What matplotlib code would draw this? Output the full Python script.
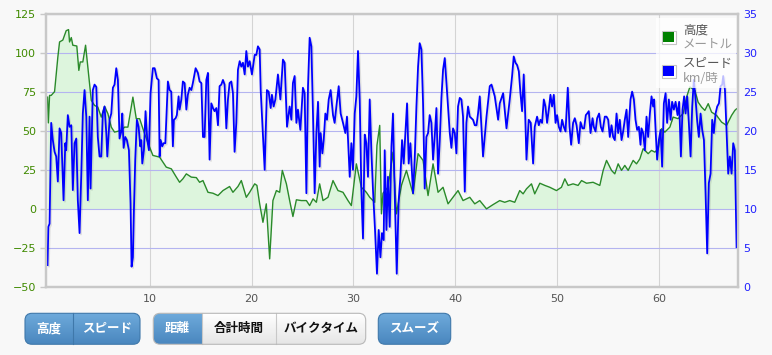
import numpy as np
import matplotlib.pyplot as plt
import matplotlib.colors as mcolors
import matplotlib.patheffects as pe
from matplotlib.patches import FancyBboxPatch, Rectangle

plt.rcParams['font.family'] = ['Noto Sans CJK JP', 'DejaVu Sans']

# altitude profile (distance km, altitude m)
altitude = [
    (0.0, 71.5), (0.08, 55), (0.2, 72.6), (0.36, 72.6), (0.69, 75), (1.01, 97), (1.18, 106.8),
    (1.50, 108), (1.67, 111), (1.83, 114), (2.06, 114.7), (2.16, 106.8), (2.33, 109.6),
    (2.48, 104.7), (2.87, 104.2), (3.07, 88.6), (3.21, 94), (3.46, 94), (3.73, 104.7),
    (3.95, 90.8), (4.29, 69.4), (4.61, 66.2), (4.93, 65.1), (5.27, 58.7), (5.59, 65.6),
    (5.92, 60.9), (6.25, 52.3), (6.57, 49.1), (7.23, 50.2), (7.55, 52.3), (7.88, 52.3),
    (8.37, 71.5), (8.70, 57.7), (9.03, 57.7), (9.52, 48), (10.01, 39.5), (10.33, 34.2),
    (10.99, 33.1), (11.64, 26.7), (12.14, 25.6), (12.63, 20.3), (12.95, 17), (13.27, 19.2),
    (13.61, 22.4), (14.10, 20.3), (14.59, 20), (14.91, 17), (15.24, 18.1), (15.73, 10.6),
    (16.22, 10), (16.71, 8.5), (17.20, 11.7), (17.85, 14.3), (18.18, 10.6), (18.67, 14.3),
    (19.00, 18.1), (19.49, 7.4), (19.82, 10.6), (20.31, 16), (20.53, 15), (20.80, 3.2),
    (21.12, -8.6), (21.45, 3.2), (21.78, -32), (22.10, 5.3), (22.44, 11.7), (22.76, 10.6),
    (23.02, 24.6), (23.42, 16), (23.74, 5.3), (24.06, -4.9), (24.40, 5.8), (24.89, 5.3),
    (25.38, 5.3), (25.70, 2.1), (26.03, 6.4), (26.36, 4.2), (26.68, 16), (27.01, 5.3),
    (27.50, 7.4), (27.99, 18.1), (28.48, 11.7), (28.97, 10.6), (29.46, 5.3), (29.79, 2.1),
    (30.28, 28.8), (30.77, 13.8), (31.26, 10.6), (31.59, 7.4), (32.08, 4.2), (32.30, 40.6),
    (32.57, 53.4), (32.74, -3.2), (32.89, 10), (33.38, 13.8), (33.87, 36.3), (34.21, -3.2),
    (34.70, 15), (35.19, 24.6), (35.84, 9.6), (36.33, 35.3), (36.82, 31), (37.31, 8.5),
    (37.80, 28.8), (38.29, 10.6), (38.78, 13.8), (39.27, 3.2), (39.76, 7.4), (40.25, 11.7),
    (40.74, 5.3), (41.40, 7.4), (41.89, 3.2), (42.38, 5.3), (43.04, 0), (43.68, 2.7),
    (44.34, 5.3), (44.83, 4.2), (45.32, 5.3), (45.81, 4.2), (46.30, 11.7), (46.63, 9.6),
    (46.96, 12.8), (47.45, 16), (47.77, 9.6), (48.27, 16.4), (48.76, 15), (49.25, 13.8),
    (49.90, 11.7), (50.39, 13.8), (50.72, 19.2), (51.04, 15), (51.53, 16), (52.02, 15),
    (52.36, 18.1), (52.85, 16.4), (53.49, 17), (54.15, 15), (54.48, 24.6), (54.81, 31),
    (55.30, 24.6), (55.62, 22.4), (55.95, 28.8), (56.28, 24.6), (56.60, 27.8), (56.93, 24.6),
    (57.42, 31), (57.75, 28.8), (58.08, 32), (58.40, 38.5), (58.89, 35.3), (59.22, 37.4),
    (59.55, 36.3), (59.88, 38.5), (60.20, 51.3), (60.53, 49.1), (61.02, 52.3), (61.34, 58.7),
    (61.83, 57.7), (62.32, 61), (62.66, 71.5), (62.98, 78), (63.47, 75.8), (63.79, 68.3),
    (64.13, 65.1), (64.45, 63), (64.78, 67.3), (65.11, 61.9), (65.60, 59.8), (66.09, 55.5),
    (66.58, 53.4), (67.07, 59.8), (67.39, 63), (67.56, 64),
]

# speed profile (distance km, speed km/h)
speed = [
    (0.0, 2.8), (0.08, 7.7), (0.2, 8.1), (0.28, 14.5), (0.36, 21), (0.52, 18.8), (0.69, 17.3),
    (0.85, 16.7), (1.01, 13.5), (1.18, 20.3), (1.34, 19.7), (1.57, 11.1), (1.74, 18.4),
    (1.83, 17.5), (1.99, 22), (2.16, 20.5), (2.33, 20.7), (2.48, 12.4), (2.65, 18.4),
    (2.82, 19), (2.97, 11.1), (3.14, 6.9), (3.31, 14.5), (3.46, 22.2), (3.63, 25.2),
    (3.80, 21.8), (3.95, 11.1), (4.12, 21.8), (4.22, 12.6), (4.44, 25.2), (4.61, 25.9),
    (4.78, 25.6), (4.93, 19.2), (5.10, 16.7), (5.27, 16.7), (5.42, 22.2), (5.59, 23.1),
    (5.76, 19.7), (5.86, 16.7), (6.08, 21.4), (6.25, 22.2), (6.41, 25.5), (6.57, 25.9),
    (6.74, 28), (6.90, 26.5), (7.06, 19), (7.23, 19.9), (7.33, 22.2), (7.46, 17.8),
    (7.62, 19.2), (7.78, 18.8), (7.98, 17.5), (8.14, 10.7), (8.24, 2.6), (8.37, 3.8),
    (8.47, 9.8), (8.60, 16.3), (8.76, 21.4), (8.93, 20.5), (9.09, 18), (9.19, 18.8),
    (9.29, 15.8), (9.45, 17.5), (9.61, 22.5), (9.78, 18.8), (9.94, 17.5), (10.10, 24.8),
    (10.33, 28), (10.50, 28), (10.72, 26.7), (10.89, 26.5), (10.99, 16.7), (11.09, 18.8),
    (11.25, 18), (11.38, 18.4), (11.55, 18.4), (11.70, 23.1), (11.80, 26.3), (11.97, 25.2),
    (12.13, 25), (12.29, 18), (12.39, 21.4), (12.56, 21.6), (12.68, 22), (12.85, 24.4),
    (12.95, 22.7), (13.12, 24), (13.27, 26.3), (13.44, 26.1), (13.61, 22.7), (13.76, 24.6),
    (13.93, 25.5), (14.10, 25.2), (14.25, 26.1), (14.52, 28), (14.74, 27.4), (14.91, 26.3),
    (15.08, 26.1), (15.24, 19.2), (15.40, 19.2), (15.57, 26.5), (15.73, 27.4), (15.89, 16.3),
    (16.06, 23.5), (16.22, 22.9), (16.38, 22.5), (16.55, 22.9), (16.71, 20.7), (16.87, 25.7),
    (17.04, 25.9), (17.20, 26.5), (17.36, 25.9), (17.53, 20.3), (17.69, 24), (17.85, 26.1),
    (18.02, 26.3), (18.18, 24.8), (18.34, 17.3), (18.51, 21), (18.67, 27.8), (18.84, 28.9),
    (19.00, 28.2), (19.16, 28.7), (19.33, 27.2), (19.49, 30.2), (19.65, 28.2), (19.82, 28.9),
    (20.04, 27.2), (20.31, 29.7), (20.47, 29.7), (20.63, 30.8), (20.80, 30.4), (20.90, 25.2),
    (21.29, 15), (21.51, 25.2), (21.68, 25), (21.88, 22.9), (22.00, 24.6), (22.17, 23.1),
    (22.34, 24), (22.59, 27.2), (22.83, 24), (23.08, 29.1), (23.25, 28.7), (23.48, 20.5),
    (23.74, 23.1), (23.91, 21.4), (24.06, 26.1), (24.23, 27), (24.40, 21), (24.55, 22.7),
    (24.79, 20.1), (25.04, 25.5), (25.21, 24.8), (25.38, 12), (25.54, 25.7), (25.70, 31.9),
    (25.87, 30.8), (26.03, 22), (26.19, 12), (26.36, 19.7), (26.52, 23.7), (26.68, 15.4),
    (26.78, 19.7), (26.95, 17.1), (27.08, 18.8), (27.24, 22.2), (27.40, 21.4), (27.57, 24),
    (27.76, 25.2), (27.99, 22), (28.15, 21), (28.32, 23.1), (28.55, 25.7), (28.74, 22.2),
    (28.97, 21), (29.20, 19.7), (29.36, 21.8), (29.63, 14.1), (29.79, 18.4), (29.95, 15),
    (30.12, 22.2), (30.28, 24.4), (30.44, 30.2), (30.61, 24), (30.77, 12.4), (30.93, 6.2),
    (31.10, 19.5), (31.26, 18.4), (31.42, 14.1), (31.59, 24), (31.75, 17.5), (31.91, 12.4),
    (32.11, 7.3), (32.30, 1.7), (32.47, 7.3), (32.64, 3.8), (32.79, 6.9), (32.96, 6),
    (33.06, 17.5), (33.23, 7.3), (33.38, 14.1), (33.55, 7.7), (33.72, 18), (33.87, 22.2),
    (34.04, 12), (34.24, 1.7), (34.43, 11.1), (34.60, 14.1), (34.76, 18.8), (34.92, 15.8),
    (35.09, 19.7), (35.25, 23.5), (35.41, 15.8), (35.58, 18.4), (35.84, 12), (36.00, 16.3),
    (36.17, 23.1), (36.33, 28.2), (36.49, 31.2), (36.66, 30.4), (36.82, 23.5), (36.98, 12.6),
    (37.15, 19.2), (37.31, 19.7), (37.47, 22), (37.64, 21), (37.80, 16.3), (37.96, 19.2),
    (38.13, 22.9), (38.29, 14.5), (38.46, 18.8), (38.62, 24.2), (38.78, 27.8), (38.95, 29.3),
    (39.11, 26.1), (39.27, 22.7), (39.44, 19.7), (39.60, 17.8), (39.76, 20.3), (39.93, 19.7),
    (40.09, 17.1), (40.25, 23.1), (40.42, 24.2), (40.58, 24), (40.74, 21.8), (40.91, 12.2),
    (41.07, 21), (41.23, 23.1), (41.40, 21.8), (41.72, 21.4), (41.89, 20.7), (42.06, 20.7),
    (42.21, 22.2), (42.38, 24.4), (42.70, 16.7), (43.04, 21.8), (43.36, 25.7), (43.53, 25.9),
    (43.85, 24.4), (44.18, 21.4), (44.34, 23.5), (44.67, 24.8), (45.00, 20.3), (45.32, 24),
    (45.55, 27), (45.71, 29.5), (45.88, 28.7), (46.04, 28.4), (46.21, 27.6), (46.37, 24.8),
    (46.53, 22.5), (46.69, 27.2), (46.82, 22.7), (46.96, 16.3), (47.18, 21.4), (47.38, 21),
    (47.61, 15.8), (47.77, 20.5), (48.00, 21.8), (48.17, 20.7), (48.33, 21.4), (48.49, 21),
    (48.66, 24), (48.82, 23.1), (48.98, 21), (49.15, 22.7), (49.31, 24.6), (49.47, 23.1),
    (49.64, 24.6), (49.81, 21), (49.96, 22), (50.13, 20.5), (50.30, 19.9), (50.45, 21.4),
    (50.62, 20.5), (50.79, 19.9), (51.01, 25.5), (51.18, 20.5), (51.34, 18.2), (51.53, 21),
    (51.70, 21.6), (51.87, 20.7), (52.09, 18.4), (52.26, 21.1), (52.45, 20.3), (52.61, 20.3),
    (52.78, 22), (52.91, 22.2), (53.07, 22.5), (53.24, 19.7), (53.44, 21.6), (53.56, 20.5),
    (53.73, 19.9), (53.89, 21.6), (54.08, 22.2), (54.25, 20.5), (54.42, 19.9), (54.64, 21.8),
    (54.81, 21.8), (54.97, 21.4), (55.13, 19.2), (55.30, 20.7), (55.46, 19.2), (55.62, 18.8),
    (55.79, 22.2), (55.95, 19.7), (56.11, 21.4), (56.28, 18.8), (56.44, 19.9), (56.60, 21.4),
    (56.77, 22.7), (56.93, 19.2), (57.16, 24), (57.32, 25), (57.49, 24), (57.65, 21.4),
    (57.81, 20.1), (57.98, 20.5), (58.14, 18.2), (58.24, 20.3), (58.40, 19.7), (58.57, 17.5),
    (58.73, 21.8), (58.89, 19.2), (59.06, 22.2), (59.22, 24.4), (59.38, 23.1), (59.48, 24),
    (59.62, 20.1), (59.77, 16.3), (59.94, 18.8), (60.11, 20.1), (60.26, 15.4), (60.43, 23.5),
    (60.60, 24.8), (60.75, 21), (60.92, 24), (61.09, 21.4), (61.24, 23.7), (61.41, 22.7),
    (61.58, 23.7), (61.77, 22), (61.93, 23.7), (62.10, 16.7), (62.26, 22.7), (62.42, 24.4),
    (62.56, 22.2), (62.72, 24.4), (62.88, 21), (63.05, 16.7), (63.21, 23.1), (63.37, 26.5),
    (63.54, 24), (63.70, 21.2), (63.86, 19.2), (64.03, 22.2), (64.19, 20.1), (64.36, 18.8),
    (64.52, 12), (64.68, 4.3), (64.84, 13.3), (65.01, 14.5), (65.17, 21.4), (65.33, 19.7),
    (65.50, 22.2), (65.66, 23.1), (65.83, 23.5), (65.99, 25.7), (66.15, 25.9), (66.25, 27),
    (66.42, 25.2), (66.58, 19.7), (66.74, 14.5), (66.90, 16.7), (67.07, 14.5), (67.23, 18.4),
    (67.39, 17.5), (67.56, 5.1),
]

x_ticks = [10, 20, 30, 40, 50, 60]
alt_ticks = [-50, -25, 0, 25, 50, 75, 100, 125]
speed_ticks = [0, 5, 10, 15, 20, 25, 30, 35]

legend_items = [('高度', 'メートル', '#008000'), ('スピード', 'km/時', '#0000ff')]
button_groups = [
    [('高度', True), ('スピード', True)],
    [('距離', True), ('合計時間', False), ('バイクタイム', False)],
    [('スムーズ', True)],
]
button_edges = [[25, 73.3, 140], [153.3, 201.7, 276, 365.7], [378.3, 450.7]]

alt_x, alt_y = zip(*altitude)
spd_x, spd_y = zip(*speed)

W, H = 772, 355
bg = '#f8f8f8'
fig = plt.figure(figsize=(W / 100, H / 100), dpi=100, facecolor=bg)
ax = fig.add_axes([46 / W, 1 - 287 / H, (738 - 46) / W, (287 - 13.5) / H])
ax.set_facecolor(bg)
ax.set_xlim(-0.15, 67.7)
ax.set_ylim(-50, 125)

ax.fill_between(alt_x, alt_y, 0, color='#90ee90', alpha=0.25, lw=0)
ax.plot(alt_x, alt_y, color='#2a8a2a', lw=1.0)

ax.set_xticks(x_ticks)
ax.set_yticks(alt_ticks)
ax.grid(axis='y', color='#b4b4f0', lw=0.8)
ax.grid(axis='x', color='#d4d4d4', lw=0.8)
ax.tick_params(axis='y', color='#c8c8c8', labelcolor='#3f8a00', length=4, width=1,
               labelsize=8, pad=3)
ax.tick_params(axis='x', length=0, labelcolor='#555555', labelsize=8, pad=5)

ax2 = ax.twinx()
ax2.set_ylim(0, 35)
ax2.set_yticks(speed_ticks)
ax2.plot(spd_x, spd_y, color='#0000ff', lw=1.3,
         path_effects=[pe.SimpleLineShadow(offset=(1.0, -1.0), shadow_color='#000000', alpha=0.1),
                       pe.Normal()])
ax2.tick_params(axis='y', length=0, labelcolor='#2020ff', labelsize=8, pad=4)

for a in (ax, ax2):
    for s in a.spines.values():
        s.set_color('#c8c8c8')
        s.set_linewidth(1.6)
    for lab in a.get_xticklabels() + a.get_yticklabels():
        lab.set_fontfamily('DejaVu Sans')

# overlay in pixel coordinates for legend and buttons
ov = fig.add_axes([0, 0, 1, 1])
ov.set_axis_off()

ov.add_patch(Rectangle((656, 18), 80, 70, fc='white', alpha=0.75, ec='none'))
for i, (name, unit, col) in enumerate(legend_items):
    y0 = 31 + i * 34
    ov.add_patch(Rectangle((661.5, y0 - 0.5), 14, 13, fc='white', ec='#c4c4c4', lw=0.8))
    ov.add_patch(Rectangle((663, y0 + 1), 11, 10, fc=col, ec='none'))
    ov.text(683, y0 - 1, name, color='#555555', fontsize=9, va='center', ha='left')
    ov.text(683, y0 + 13, unit, color='#999999', fontsize=9, va='center', ha='left')


def gradient(x0, x1, y0, y1, top, bot, clip):
    g = np.linspace(0, 1, 32)[:, None, None]
    img = np.array(mcolors.to_rgb(top)) * (1 - g) + np.array(mcolors.to_rgb(bot)) * g
    im = ov.imshow(img, extent=(x0, x1, y1, y0), aspect='auto', interpolation='bilinear', zorder=2)
    im.set_clip_path(clip)


by0, by1 = 313.3, 344.3
for group, edges in zip(button_groups, button_edges):
    frame = FancyBboxPatch((edges[0], by0), edges[-1] - edges[0], by1 - by0,
                           boxstyle='round,pad=0,rounding_size=7', fc='none', ec='none', zorder=1)
    ov.add_patch(frame)
    for (label, active), xa, xb in zip(group, edges[:-1], edges[1:]):
        if active:
            gradient(xa, xb, by0, by1, '#6eaadb', '#4a87bf', frame)
            tcol = 'white'
        else:
            gradient(xa, xb, by0, by1, '#ffffff', '#e6e6e6', frame)
            tcol = '#111111'
        ov.text((xa + xb) / 2, (by0 + by1) / 2, label, color=tcol, fontsize=9,
                fontweight='bold', ha='center', va='center', zorder=4)
    for (label, active), xe in zip(group[1:], edges[1:-1]):
        ov.plot([xe, xe], [by0, by1], color='#3f78aa' if active else '#c8c8c8', lw=0.8, zorder=3)
    edge_col = '#3f78aa' if all(a for _, a in group) else '#b8b8b8'
    ov.add_patch(FancyBboxPatch((edges[0], by0), edges[-1] - edges[0], by1 - by0,
                                boxstyle='round,pad=0,rounding_size=7', fc='none',
                                ec=edge_col, lw=0.8, zorder=3))

ov.set_xlim(0, W)
ov.set_ylim(H, 0)

fig.savefig('out.png', dpi=100, facecolor=bg)
